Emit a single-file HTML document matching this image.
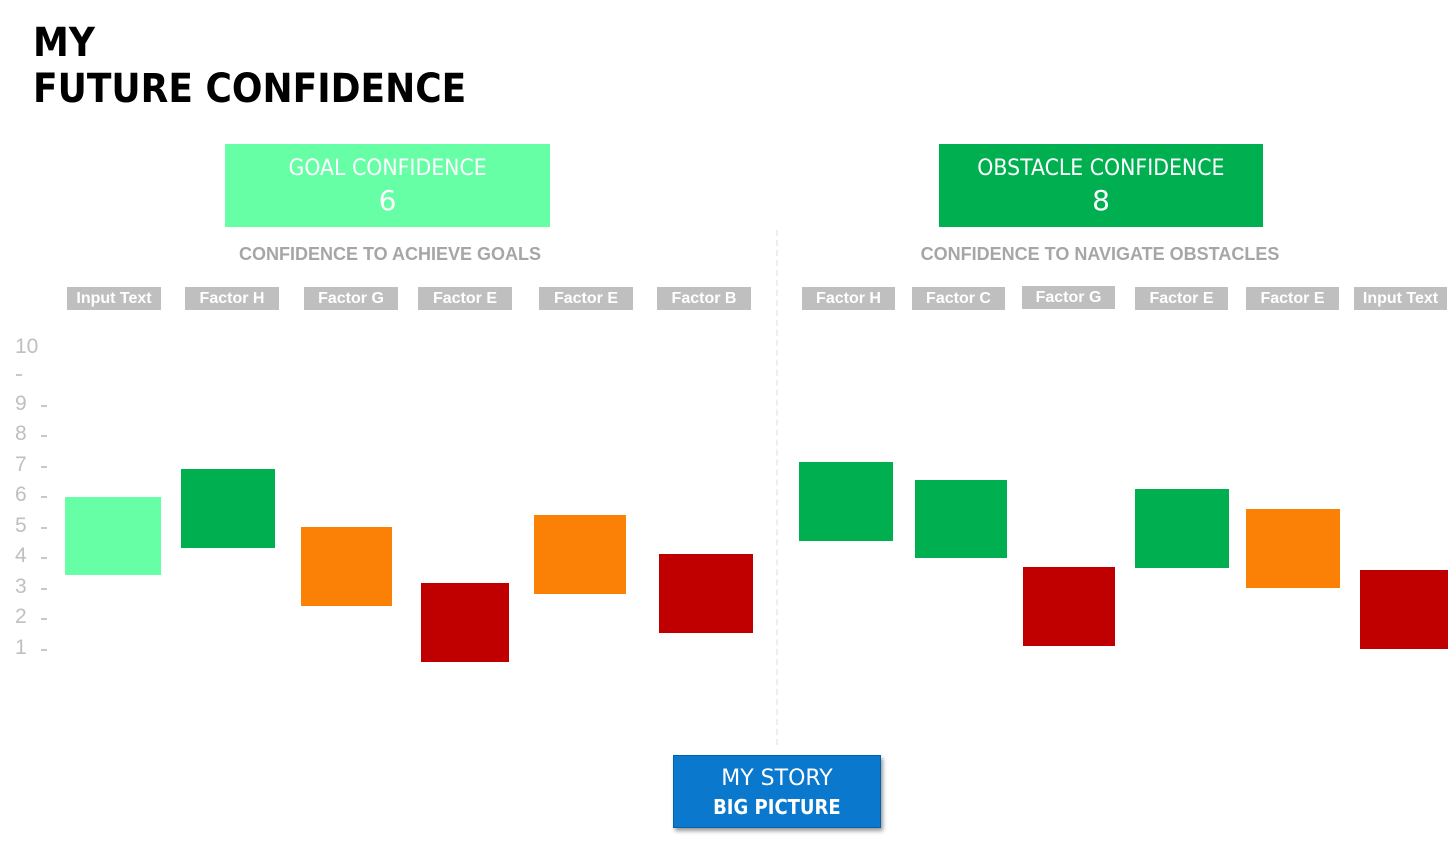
<!DOCTYPE html>
<html><head><style>
body{margin:0;width:1451px;height:845px;background:#fff;position:relative;overflow:hidden;font-family:"Liberation Sans",sans-serif}
.a{position:absolute}
.t{font-family:"DejaVu Sans","Liberation Sans",sans-serif;font-weight:bold;color:#000;font-size:40px;line-height:46px;left:33px;transform:scaleX(0.9);transform-origin:0 0;white-space:nowrap}
.lab{position:absolute;top:287px;height:23px;background:#bfbfbf;color:#fff;font-weight:bold;font-size:16px;line-height:23px;text-align:center}
.b{position:absolute}
.ax{position:absolute;color:#bfbfbf;font-size:21px;left:15px;line-height:20px}
.d{position:absolute;left:41px;width:6px;height:2px;background:#c8c8c8}
.hd{position:absolute;top:144px;height:83px;color:#fff;text-align:center;font-family:"DejaVu Sans",sans-serif;font-size:22px;line-height:32px;padding-top:9px;box-sizing:border-box}
.sub{position:absolute;top:244px;color:#a6a6a6;font-weight:bold;font-size:18px;text-align:center}
</style></head><body>
<div class="a t" style="top:20px">MY</div>
<div class="a t" style="top:66px">FUTURE CONFIDENCE</div>
<div class="hd" style="left:225px;width:325px;background:#66ffa6"><span style="display:inline-block;transform:scaleX(0.93)">GOAL CONFIDENCE</span><br><span style="font-size:28px">6</span></div>
<div class="hd" style="left:939px;width:324px;background:#00b050"><span style="display:inline-block;transform:scaleX(0.93)">OBSTACLE CONFIDENCE</span><br><span style="font-size:28px">8</span></div>
<div class="sub" style="left:190px;width:400px">CONFIDENCE TO ACHIEVE GOALS</div>
<div class="sub" style="left:880px;width:440px">CONFIDENCE TO NAVIGATE OBSTACLES</div>
<div class="a" style="left:776px;top:230px;height:515px;border-left:2px dashed #eee"></div>

<div class="lab" style="left:67px;width:94px">Input Text</div>
<div class="lab" style="left:185px;width:94px">Factor H</div>
<div class="lab" style="left:304px;width:94px">Factor G</div>
<div class="lab" style="left:418px;width:94px">Factor E</div>
<div class="lab" style="left:539px;width:94px">Factor E</div>
<div class="lab" style="left:657px;width:94px">Factor B</div>
<div class="lab" style="left:802px;width:93px">Factor H</div>
<div class="lab" style="left:912px;width:93px">Factor C</div>
<div class="lab" style="left:1022px;width:93px;top:286px">Factor G</div>
<div class="lab" style="left:1135px;width:93px">Factor E</div>
<div class="lab" style="left:1246px;width:93px">Factor E</div>
<div class="lab" style="left:1354px;width:93px">Input Text</div>

<div class="ax" style="top:337px">10</div>
<div class="d" style="left:16px;top:374px"></div>
<div class="ax" style="top:394px">9</div><div class="d" style="top:405px"></div>
<div class="ax" style="top:424px">8</div><div class="d" style="top:435px"></div>
<div class="ax" style="top:455px">7</div><div class="d" style="top:466px"></div>
<div class="ax" style="top:485px">6</div><div class="d" style="top:496px"></div>
<div class="ax" style="top:516px">5</div><div class="d" style="top:527px"></div>
<div class="ax" style="top:546px">4</div><div class="d" style="top:557px"></div>
<div class="ax" style="top:577px">3</div><div class="d" style="top:588px"></div>
<div class="ax" style="top:607px">2</div><div class="d" style="top:618px"></div>
<div class="ax" style="top:638px">1</div><div class="d" style="top:649px"></div>

<div class="b" style="left:65px;top:497px;width:96px;height:78px;background:#66ffa6"></div>
<div class="b" style="left:181px;top:469px;width:94px;height:79px;background:#00b050"></div>
<div class="b" style="left:301px;top:527px;width:91px;height:79px;background:#fb8006"></div>
<div class="b" style="left:421px;top:583px;width:88px;height:79px;background:#c00000"></div>
<div class="b" style="left:534px;top:515px;width:92px;height:79px;background:#fb8006"></div>
<div class="b" style="left:659px;top:554px;width:94px;height:79px;background:#c00000"></div>
<div class="b" style="left:799px;top:462px;width:94px;height:79px;background:#00b050"></div>
<div class="b" style="left:915px;top:480px;width:92px;height:78px;background:#00b050"></div>
<div class="b" style="left:1023px;top:567px;width:92px;height:79px;background:#c00000"></div>
<div class="b" style="left:1135px;top:489px;width:94px;height:79px;background:#00b050"></div>
<div class="b" style="left:1246px;top:509px;width:94px;height:79px;background:#fb8006"></div>
<div class="b" style="left:1360px;top:570px;width:88px;height:79px;background:#c00000"></div>

<div class="a" style="left:673px;top:755px;width:208px;height:73px;background:#0a78cc;box-shadow:2px 3px 4px rgba(0,0,0,.4);border:1px solid #0660a8;box-sizing:border-box;color:#fff;text-align:center;font-family:'DejaVu Sans',sans-serif;font-size:22px;line-height:28px;padding-top:9px">MY STORY<br><span style="font-size:20px;font-weight:bold;display:inline-block;transform:scaleX(0.9)">BIG PICTURE</span></div>
</body></html>
